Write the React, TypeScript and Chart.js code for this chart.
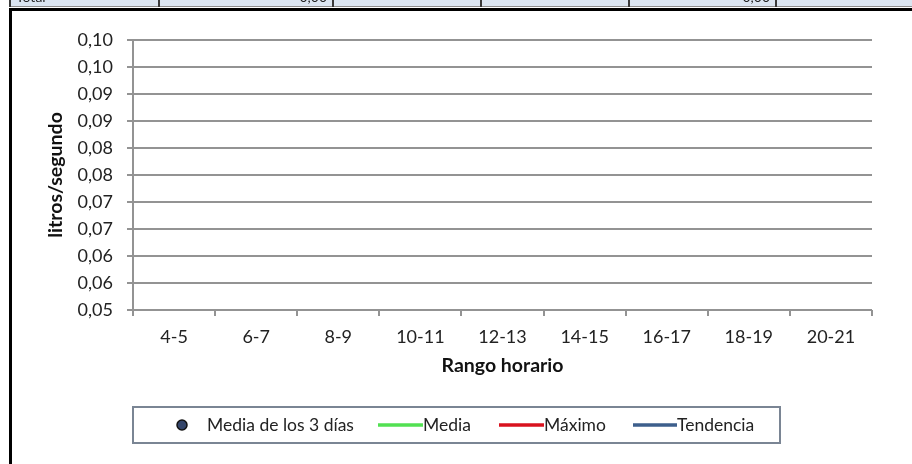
import { useEffect, useRef } from 'react';
import { Chart, registerables } from 'chart.js';

Chart.register(...registerables);

// ---- Data ----
const categories: string[] = ['4-5', '6-7', '8-9', '10-11', '12-13', '14-15', '16-17', '18-19', '20-21'];
const mediaTresDias: (number | null)[] = [null, null, null, null, null, null, null, null, null];
const media: (number | null)[] = [null, null, null, null, null, null, null, null, null];
const maximo: (number | null)[] = [null, null, null, null, null, null, null, null, null];
const tendencia: (number | null)[] = [null, null, null, null, null, null, null, null, null];
const yTickLabels: string[] = ['0,05', '0,06', '0,06', '0,07', '0,07', '0,08', '0,08', '0,09', '0,09', '0,10', '0,10'];
const yMin = 0.05;
const yMax = 0.1;
const yStep = 0.005;
const headerTexts: string[] = ['Total', '0,00', '', '', '0,00', ''];

const FONT = 'Lato, "Open Sans", sans-serif';
const GRID = '#939393';

const framePlugin = {
  id: 'frame',
  beforeDraw(chart: any) {
    const ctx = chart.ctx as CanvasRenderingContext2D;
    const W = chart.width;
    const H = chart.height;
    ctx.save();
    ctx.fillStyle = '#ffffff';
    ctx.fillRect(0, 0, W, H);
    // header strip (cut-off table row)
    const cellX = [10, 159, 333, 481, 629, 776, W];
    ctx.fillStyle = '#dbe5f1';
    ctx.fillRect(10, 0, W - 10, 6);
    ctx.fillStyle = '#8c8c8c';
    ctx.fillRect(10, 6, W - 10, 1);
    ctx.save();
    ctx.beginPath();
    ctx.rect(10, 0, W - 10, 6);
    ctx.clip();
    ctx.font = `14px ${FONT}`;
    ctx.fillStyle = '#222';
    ctx.textBaseline = 'bottom';
    headerTexts.forEach((t, i) => {
      if (!t) return;
      if (i === 0) {
        ctx.textAlign = 'left';
        ctx.fillText(t, cellX[i] + 6, 4);
      } else {
        ctx.textAlign = 'right';
        ctx.fillText(t, cellX[i + 1] - 6, 4);
      }
    });
    ctx.restore();
    ctx.fillStyle = '#3a3a3a';
    cellX.slice(0, -1).forEach((x) => ctx.fillRect(x - 1, 0, 2, 7));
    // black frame
    ctx.fillStyle = '#000000';
    ctx.fillRect(9, 8, W - 9, 3);
    ctx.fillRect(9, 8, 3, H - 8);
    ctx.restore();
  },
};

const legendPlugin = {
  id: 'boxLegend',
  afterDraw(chart: any) {
    const ctx = chart.ctx as CanvasRenderingContext2D;
    const ds = chart.data.datasets;
    const boxX = 133, boxY = 407, boxW = 647, boxH = 36;
    const cy = boxY + boxH / 2;
    ctx.save();
    ctx.strokeStyle = '#7a8594';
    ctx.lineWidth = 2;
    ctx.strokeRect(boxX, boxY, boxW, boxH);
    const items = [
      { marker: 'point', mx0: 182, mx1: 182, tx: 207 },
      { marker: 'line', mx0: 378, mx1: 423, tx: 423 },
      { marker: 'line', mx0: 499, mx1: 544, tx: 544 },
      { marker: 'line', mx0: 633, mx1: 677, tx: 677 },
    ];
    ctx.font = `17.5px ${FONT}`;
    ctx.textBaseline = 'middle';
    ctx.textAlign = 'left';
    items.forEach((it, i) => {
      const d = ds[i];
      if (it.marker === 'point') {
        ctx.beginPath();
        ctx.arc(it.mx0, cy, 5, 0, Math.PI * 2);
        ctx.fillStyle = d.pointBackgroundColor;
        ctx.fill();
        ctx.lineWidth = 1.5;
        ctx.strokeStyle = d.pointBorderColor;
        ctx.stroke();
      } else {
        ctx.beginPath();
        ctx.moveTo(it.mx0, cy);
        ctx.lineTo(it.mx1, cy);
        ctx.lineWidth = 3.5;
        ctx.strokeStyle = d.borderColor;
        ctx.stroke();
      }
      ctx.fillStyle = '#222';
      ctx.fillText(d.label, it.tx, cy);
    });
    ctx.restore();
  },
};

export default function App() {
  const ref = useRef<HTMLCanvasElement | null>(null);
  useEffect(() => {
    document.body.style.margin = '0';
    if (!ref.current) return;
    const tickFont = { family: FONT, size: 18 };
    const titleFont = { family: FONT, size: 19.5, weight: 'bold' as const };
    const chart = new Chart(ref.current, {
      type: 'line',
      data: {
        labels: categories,
        datasets: [
          {
            label: 'Media de los 3 días',
            data: mediaTresDias,
            showLine: false,
            pointRadius: 5,
            pointBackgroundColor: '#34456a',
            pointBorderColor: '#111111',
            borderColor: '#34456a',
          } as any,
          { label: 'Media', data: media, borderColor: '#52e052', borderWidth: 3, pointRadius: 0 },
          { label: 'Máximo', data: maximo, borderColor: '#d8121e', borderWidth: 3, pointRadius: 0 },
          { label: 'Tendencia', data: tendencia, borderColor: '#3d5f8c', borderWidth: 3, pointRadius: 0 },
        ],
      },
      options: {
        responsive: false,
        animation: false,
        layout: { padding: { left: 40, top: 40, right: 40, bottom: 84 } },
        plugins: { legend: { display: false }, tooltip: { enabled: false } },
        scales: {
          x: {
            type: 'category',
            offset: true,
            grid: { offset: true, drawOnChartArea: false, drawTicks: true, tickLength: 6, color: GRID, lineWidth: 2 },
            border: { display: false },
            ticks: { font: tickFont, color: '#222', padding: 10, maxRotation: 0, autoSkip: false },
            title: { display: true, text: 'Rango horario', font: titleFont, color: '#111', padding: { top: 4, bottom: 3 } },
            afterFit: (s: any) => {
              s.height = 70;
            },
          },
          y: {
            min: yMin,
            max: yMax,
            ticks: {
              stepSize: yStep,
              font: tickFont,
              color: '#222',
              padding: 14,
              callback: (_v: any, i: number) => yTickLabels[i],
            },
            grid: { color: GRID, lineWidth: 2, tickLength: 6 },
            border: { display: true, color: GRID, width: 2 },
            title: { display: true, text: 'litros/segundo', font: titleFont, color: '#111', padding: { top: 4, bottom: 4 } },
            afterFit: (s: any) => {
              s.width = 93;
            },
          },
        },
      },
      plugins: [framePlugin, legendPlugin],
    });
    return () => chart.destroy();
  }, []);
  return (
    <div style={{ width: 912, height: 464 }}>
      <canvas ref={ref} width={912} height={464} style={{ display: 'block' }} />
    </div>
  );
}
